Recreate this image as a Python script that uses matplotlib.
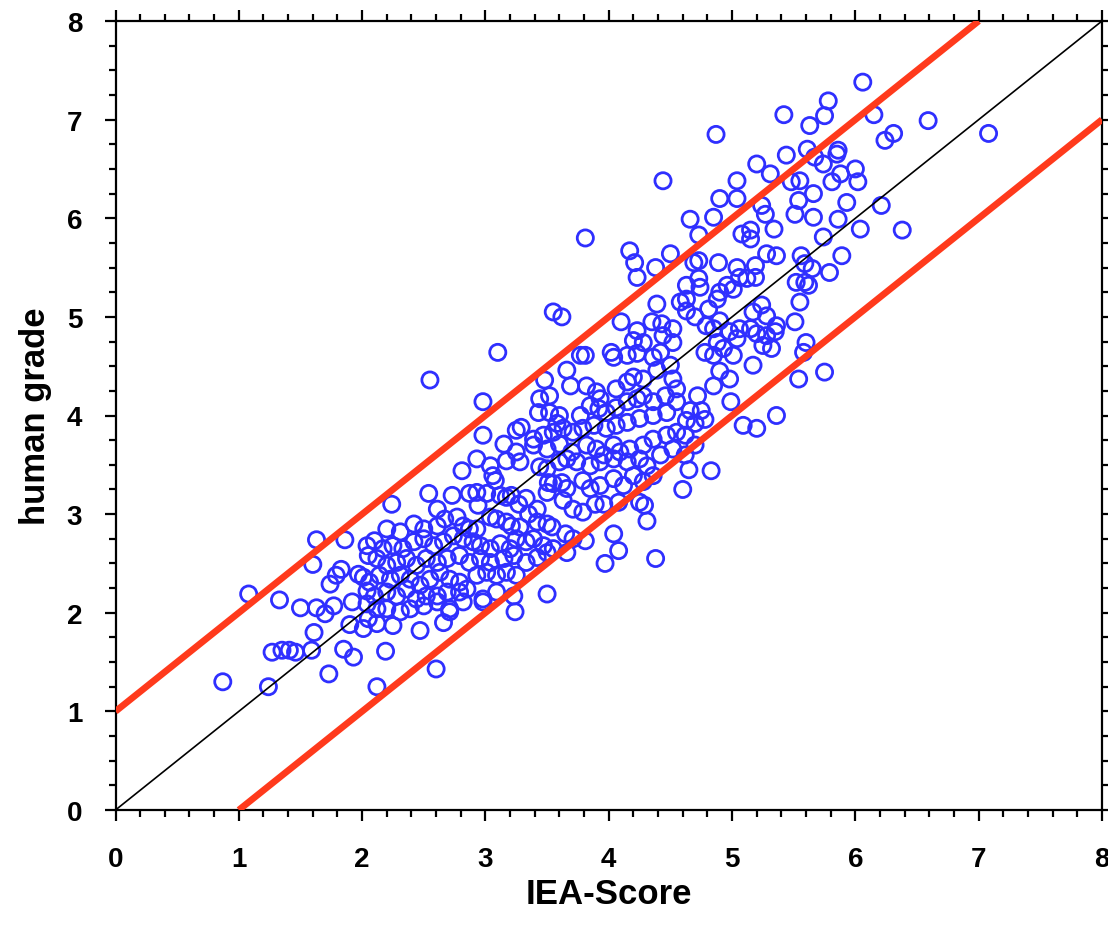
import matplotlib
matplotlib.use("Agg")
import matplotlib.pyplot as plt
from matplotlib.ticker import MultipleLocator
import numpy as np

plt.rcParams['font.family'] = ['Liberation Sans', 'DejaVu Sans']
plt.rcParams['font.weight'] = 'bold'

# ---- data: IEA-Score (x) vs human grade (y) ----
iea_a = [1.63, 1.86, 1.60, 1.08, 1.33, 1.50, 1.63, 1.70, 1.77, 1.74, 1.79, 1.83, 1.92, 1.97,
         1.90, 1.61, 1.27, 1.35, 1.41, 1.46, 1.59, 1.85, 1.93, 2.19, 1.73, 0.87, 1.24, 2.12]
grade_a = [2.74, 2.74, 2.49, 2.19, 2.13, 2.05, 2.05, 1.99, 2.07, 2.29, 2.38, 2.44, 2.11, 2.39,
           1.88, 1.80, 1.60, 1.62, 1.62, 1.60, 1.62, 1.63, 1.55, 1.61, 1.38, 1.30, 1.25, 1.25]

iea_b = [2.04, 2.10, 2.05, 2.12, 2.01, 2.06, 2.14, 2.04, 2.10, 2.04, 2.12, 2.05, 2.12, 2.01, 2.60]
grade_b = [2.68, 2.73, 2.58, 2.55, 2.36, 2.31, 2.38, 2.22, 2.17, 2.09, 2.04, 1.94, 1.89, 1.84, 1.43]

iea_c = [3.15, 3.25, 3.39, 3.50, 3.60, 3.70, 3.66, 3.74,
         2.81, 2.93, 3.04, 3.06, 3.08, 3.17, 3.28, 3.44, 3.50, 3.60,
         2.24, 2.54, 2.61, 2.73, 2.87, 2.93, 2.94, 3.01, 3.12, 3.17, 3.21, 3.27, 3.33, 3.42, 3.50,
         3.51, 3.55, 3.62, 3.66, 3.63, 3.71,
         2.42, 2.31, 2.20, 2.50, 2.61, 2.67, 2.77, 2.82, 2.87, 2.93, 3.04, 3.09, 3.17, 3.21, 3.28,
         3.35, 3.42, 3.50, 3.54, 3.65, 3.71,
         2.17, 2.25, 2.33, 2.42, 2.50, 2.58, 2.66, 2.74, 2.82, 2.90, 2.96, 3.04, 3.12, 3.20, 3.25,
         3.33, 3.39, 3.47, 3.55, 3.66,
         2.20, 2.28, 2.36, 2.44, 2.52, 2.61, 2.69, 2.79, 2.87, 2.96, 3.04, 3.15, 3.23, 3.33, 3.42, 3.50,
         2.23, 2.31, 2.39, 2.47, 2.55, 2.63, 2.71, 2.79, 2.85, 2.93, 3.01, 3.09, 3.17, 3.25,
         2.20, 2.28, 2.36, 2.44, 2.52, 2.61, 2.69, 2.79, 2.98, 3.09, 3.23, 3.50,
         2.20, 2.31, 2.39, 2.50, 2.61, 2.71, 2.82, 2.98,
         2.25, 2.47, 2.66, 2.71, 3.24]
grade_c = [3.71, 3.63, 3.70, 3.66, 3.71, 3.63, 3.56, 3.53,
           3.44, 3.56, 3.49, 3.39, 3.34, 3.54, 3.53, 3.48, 3.46, 3.53,
           3.10, 3.21, 3.05, 3.19, 3.21, 3.22, 3.09, 3.21, 3.19, 3.17, 3.19, 3.10, 3.16, 3.05, 3.22,
           3.32, 3.31, 3.32, 3.26, 3.14, 3.05,
           2.90, 2.82, 2.85, 2.85, 2.88, 2.95, 2.97, 2.88, 2.85, 2.85, 2.97, 2.95, 2.92, 2.88, 2.87,
           3.00, 2.92, 2.90, 2.87, 2.80, 2.75,
           2.65, 2.68, 2.65, 2.72, 2.75, 2.68, 2.72, 2.78, 2.75, 2.72, 2.68, 2.65, 2.70, 2.65, 2.75,
           2.72, 2.75, 2.68, 2.65, 2.61,
           2.48, 2.51, 2.55, 2.48, 2.55, 2.51, 2.55, 2.58, 2.51, 2.55, 2.51, 2.55, 2.58, 2.51, 2.56, 2.61,
           2.34, 2.38, 2.34, 2.28, 2.34, 2.41, 2.34, 2.31, 2.24, 2.38, 2.41, 2.38, 2.41, 2.38,
           2.21, 2.17, 2.24, 2.14, 2.17, 2.17, 2.21, 2.21, 2.14, 2.21, 2.17, 2.19,
           2.04, 2.01, 2.04, 2.07, 2.11, 2.04, 2.11, 2.11,
           1.87, 1.82, 1.90, 2.01, 2.01]

iea_d = [3.55, 3.62, 3.10, 4.39, 4.10, 4.23, 4.35, 4.43, 4.52, 4.20, 4.28, 4.44, 4.52, 4.42,
         3.77, 3.81, 4.02, 4.04, 4.15, 4.23, 4.36, 3.66, 3.48, 3.69, 3.82, 3.90, 3.93, 4.06, 4.15,
         4.20, 4.28, 4.39, 4.50, 4.52, 4.55,
         2.98, 3.44, 3.52, 3.43, 3.52, 3.60, 3.58, 3.77, 3.85, 3.92, 3.98, 4.06, 4.15, 4.23, 4.28,
         4.36, 4.46, 4.55,
         3.25, 3.29, 3.39, 3.47, 3.55, 3.63, 3.71, 3.79, 3.88, 3.98, 4.06, 4.15, 4.25, 4.36, 4.47, 2.98,
         3.82, 3.90, 3.96, 4.04, 4.09, 4.17, 4.28, 4.36, 4.47, 4.55,
         3.85, 3.93, 4.04, 4.15, 4.25, 4.31, 4.42, 4.52, 3.79, 3.85, 3.93, 4.04, 4.12, 4.20, 4.28, 4.36]
grade_d = [5.05, 5.00, 4.64, 5.13, 4.95, 4.86, 4.95, 4.93, 4.88, 4.76, 4.74, 4.81, 4.74, 4.64,
           4.61, 4.61, 4.64, 4.59, 4.61, 4.63, 4.59, 4.46, 4.36, 4.30, 4.30, 4.24, 4.17, 4.27, 4.34,
           4.39, 4.37, 4.46, 4.51, 4.37, 4.27,
           4.14, 4.17, 4.20, 4.03, 4.03, 4.00, 3.92, 4.00, 4.10, 4.07, 4.03, 4.08, 4.14, 4.17, 4.20,
           4.14, 4.20, 4.14,
           3.85, 3.88, 3.76, 3.80, 3.83, 3.87, 3.83, 3.87, 3.90, 3.87, 3.90, 3.93, 3.97, 4.00, 4.03, 3.80,
           3.70, 3.66, 3.60, 3.70, 3.63, 3.66, 3.70, 3.76, 3.80, 3.83,
           3.49, 3.53, 3.56, 3.53, 3.56, 3.49, 3.60, 3.66, 3.34, 3.26, 3.29, 3.36, 3.29, 3.39, 3.33, 3.39]

iea_e = [4.17, 4.21, 4.23, 4.38, 4.50, 4.69, 4.73, 4.89, 5.04, 5.19, 5.36, 5.28, 4.73, 4.74,
         4.63, 5.06, 5.12, 5.19, 4.96, 4.90, 4.88, 5.01, 4.58, 4.63,
         4.63, 4.70, 4.81, 4.79, 4.85, 4.90, 4.98, 5.04, 5.06, 5.17, 5.24, 5.28, 5.15, 5.20, 5.28,
         5.35, 5.36, 4.88, 4.93, 5.01, 4.85, 4.78, 5.25, 5.32, 5.17, 4.98, 4.99, 5.09, 5.20, 5.36, 4.83,
         4.62, 4.70, 4.78, 4.66, 4.72, 4.85, 4.90, 4.62, 4.65, 4.70, 4.75, 4.60, 4.63]
grade_e = [5.67, 5.55, 5.40, 5.50, 5.64, 5.55, 5.57, 5.55, 5.50, 5.52, 5.62, 5.64, 5.39, 5.30,
           5.32, 5.40, 5.39, 5.40, 5.32, 5.25, 5.18, 5.28, 5.15, 5.18,
           5.06, 5.00, 5.08, 4.91, 4.88, 4.96, 4.85, 4.78, 4.88, 5.05, 5.12, 5.01, 4.88, 4.83, 4.81,
           4.85, 4.91, 4.74, 4.68, 4.61, 4.61, 4.64, 4.71, 4.68, 4.51, 4.37, 4.14, 3.90, 3.87, 4.00, 3.44,
           3.80, 3.92, 3.96, 4.05, 4.20, 4.30, 4.45, 3.60, 3.45, 3.70, 4.05, 3.25, 3.95]

iea_f = [5.20, 5.44, 5.31, 5.04, 4.90, 5.04, 4.66, 4.85, 4.73, 5.08, 5.15, 5.15, 5.24, 5.27,
         5.34, 5.48, 5.55, 5.67, 5.74, 5.85, 5.88, 6.00, 6.02, 5.81, 5.66, 5.54, 5.51, 5.66, 5.86,
         5.93, 6.04, 5.74,
         5.56, 5.59, 5.65, 5.79, 5.89, 5.52, 5.59, 5.62, 5.55, 5.51, 5.60, 5.75, 5.54, 5.58]
grade_f = [6.55, 6.64, 6.45, 6.38, 6.20, 6.20, 5.99, 6.01, 5.83, 5.84, 5.88, 5.79, 6.13, 6.04,
           5.89, 6.37, 6.38, 6.62, 6.55, 6.65, 6.45, 6.50, 6.37, 6.37, 6.25, 6.18, 6.04, 6.01, 5.99,
           6.16, 5.89, 5.81,
           5.62, 5.54, 5.49, 5.45, 5.62, 5.35, 5.35, 5.32, 5.15, 4.95, 4.74, 4.44, 4.37, 4.64]

iea_g = [6.06, 5.78, 5.75, 5.42, 5.63, 6.15, 6.24, 6.31, 6.59, 5.61, 5.86, 6.21, 6.38, 7.08,
         4.44, 3.81, 4.87, 2.55]
grade_g = [7.38, 7.19, 7.04, 7.05, 6.94, 7.05, 6.79, 6.86, 6.99, 6.70, 6.69, 6.13, 5.88, 6.86,
           6.38, 5.80, 6.85, 4.36]

iea_h = [3.79, 3.89, 3.96, 4.08, 4.25, 4.29, 4.31, 3.81, 4.04, 4.08, 3.97, 4.38]
grade_h = [3.02, 3.10, 3.10, 3.12, 3.12, 3.09, 2.93, 2.73, 2.80, 2.63, 2.50, 2.55]

# reference lines
identity_x = [0, 8]
identity_y = [0, 8]
upper_x = [0, 7]
upper_y = [1, 8]
lower_x = [1, 8]
lower_y = [0, 7]

axis_ticks = [0, 1, 2, 3, 4, 5, 6, 7, 8]

x = np.concatenate([iea_a, iea_b, iea_c, iea_d, iea_e, iea_f, iea_g, iea_h])
y = np.concatenate([grade_a, grade_b, grade_c, grade_d, grade_e, grade_f, grade_g, grade_h])

W, H = 1108, 928
fig = plt.figure(figsize=(W / 100, H / 100), dpi=100)
ax = fig.add_axes([115.5 / W, 1 - 811 / H, (1102 - 115.5) / W, (811 - 22) / H])

ax.scatter(x, y, s=135, facecolors='none', edgecolors='#2f2fff', linewidths=2.0, zorder=2)
ax.plot(identity_x, identity_y, color='black', lw=1.2, zorder=3)
ax.plot(upper_x, upper_y, color='#ff3a1c', lw=4.8, zorder=4, solid_capstyle='butt')
ax.plot(lower_x, lower_y, color='#ff3a1c', lw=4.8, zorder=4, solid_capstyle='butt')

ax.set_xlim(0, 8)
ax.set_ylim(0, 8)
ax.set_xticks(axis_ticks)
ax.set_yticks(axis_ticks)
ax.xaxis.set_minor_locator(MultipleLocator(0.2))
ax.yaxis.set_minor_locator(MultipleLocator(0.25))

for s in ax.spines.values():
    s.set_linewidth(1.6)

ax.tick_params(which='both', direction='out', top=True, right=True,
               labeltop=False, labelright=False, width=1.6)
ax.tick_params(which='major', length=8, labelsize=20)
ax.tick_params(axis='x', which='major', pad=18)
ax.tick_params(axis='y', which='major', pad=16)
ax.tick_params(which='minor', length=5)
for lab in ax.get_xticklabels() + ax.get_yticklabels():
    lab.set_fontweight('bold')

ax.set_xlabel('IEA-Score', fontsize=25, fontweight='bold')
ax.set_ylabel('human grade', fontsize=25, fontweight='bold')
ax.xaxis.set_label_coords(0.5, -0.085)
ax.yaxis.set_label_coords(-0.064, 0.5)

fig.savefig('out.png', dpi=100)
